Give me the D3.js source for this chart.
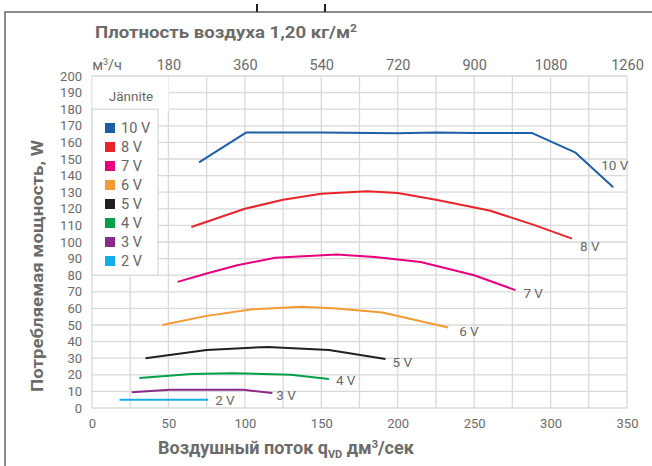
<!DOCTYPE html>
<html><head><meta charset="utf-8">
<script src="https://cdn.jsdelivr.net/npm/d3@7"></script>
<style>
html,body{margin:0;padding:0;background:#fff;}
svg{display:block;font-family:Roboto,"Open Sans",sans-serif;}
</style></head>
<body>
<svg id="c" width="652" height="466"></svg>
<script>
// ---- data ----
const seriesNames = ["10 V","8 V","7 V","6 V","5 V","4 V","3 V","2 V"];
const seriesColors = ["#1d5ea8","#e8232a","#e6007e","#f39a33","#231f20","#00a04b","#8c2a8a","#12aee8"];
const v10 = [[70,148],[101,166],[150,166],[200,165.5],[225,166],[250,165.7],[288,165.6],[316,154],[341,133]];
const v8  = [[65,109],[100,120],[125,125.5],[150,129],[180,130.5],[200,129.5],[225,125.5],[260,119],[290,110],[314,102]];
const v7  = [[56,76],[75,81],[95,86],[120,90.5],[160,92.5],[185,91],[215,88],[250,80],[277,71]];
const v6  = [[46,50],[75,55.5],[105,59.5],[137,61],[160,60],[190,57.5],[233,48.5]];
const v5  = [[35,30],[75,35],[115,36.8],[155,35],[192,29.5]];
const v4  = [[31,18],[65,20.5],[92,21],[130,20],[155,17.5]];
const v3  = [[26,9.5],[51,11],[99,11],[118,9]];
const v2  = [[18,5],[76,5]];
const seriesValues = [v10,v8,v7,v6,v5,v4,v3,v2];
const xTicks = [0,50,100,150,200,250,300,350];
const yTicks = d3.range(0,201,10);
const topTicks = [180,360,540,720,900,1080,1260]; // m³/h
const legendTitle = "Jännite";

// ---- layout ----
const svg = d3.select("#c");
const L = 92, R = 627, T = 76, B = 408;
const x = d3.scaleLinear().domain([0,350]).range([L,R]);
const y = d3.scaleLinear().domain([0,200]).range([B,T]);
const xTop = d3.scaleLinear().domain([0,1260]).range([L,R]);
const grid = "#d9d9d9", txt = "#6b6b6b";

// outer frame
svg.append("path").attr("d","M5,466 V12 H652").attr("fill","none").attr("stroke","#8a8a8a").attr("stroke-width",2);
svg.append("line").attr("x1",257).attr("x2",257).attr("y1",4).attr("y2",12).attr("stroke","#222").attr("stroke-width",2);
svg.append("line").attr("x1",325).attr("x2",325).attr("y1",4).attr("y2",12).attr("stroke","#222").attr("stroke-width",2);

// gridlines
svg.append("g").selectAll("line").data(d3.range(0,351,25)).join("line")
  .attr("x1",d=>x(d)).attr("x2",d=>x(d)).attr("y1",T).attr("y2",B)
  .attr("stroke",grid).attr("stroke-width",1.3);
svg.append("g").selectAll("line").data(yTicks).join("line")
  .attr("x1",L).attr("x2",R).attr("y1",d=>y(d)).attr("y2",d=>y(d))
  .attr("stroke",grid).attr("stroke-width",1.3);

// axes
const ax = svg.append("g").attr("transform",`translate(0,${B})`).call(d3.axisBottom(x).tickValues(xTicks).tickSize(0).tickPadding(11));
ax.select(".domain").remove();
ax.selectAll("text").attr("fill",txt).attr("font-size",13).attr("font-family","Roboto");
const ay = svg.append("g").attr("transform",`translate(${L},0)`).call(d3.axisLeft(y).tickValues(yTicks).tickSize(0).tickPadding(10));
ay.select(".domain").remove();
ay.selectAll("text").attr("fill",txt).attr("font-size",13).attr("font-family","Roboto");
const at = svg.append("g").attr("transform",`translate(0,70)`).call(d3.axisTop(xTop).tickValues(topTicks).tickFormat(d3.format("d")).tickSize(0).tickPadding(0));
at.select(".domain").remove();
at.selectAll("text").attr("fill",txt).attr("font-size",14.5).attr("font-family","Roboto");
svg.append("text").attr("x",107).attr("y",70).attr("text-anchor","middle").attr("fill",txt)
  .attr("font-size",14.5).html('м<tspan dy="-5" font-size="9">3</tspan><tspan dy="5">/ч</tspan>');

// title
svg.append("text").attr("x",95).attr("y",38).attr("fill",txt).attr("font-weight","bold")
  .attr("font-size",17).attr("textLength",262).attr("lengthAdjust","spacingAndGlyphs")
  .html('Плотность воздуха 1,20 кг/м<tspan dy="-6" font-size="11">2</tspan>');

// axis titles
svg.append("text").attr("transform","translate(43,266) rotate(-90)").attr("text-anchor","middle")
  .attr("fill",txt).attr("font-weight","bold").attr("font-size",17)
  .attr("textLength",252).attr("lengthAdjust","spacingAndGlyphs")
  .text("Потребляемая мощность, W");
svg.append("text").attr("x",158).attr("y",454).attr("fill",txt).attr("font-weight","bold").attr("font-size",18)
  .html('Воздушный поток q<tspan dy="4" font-size="11">VD</tspan><tspan dy="-4"> дм</tspan><tspan dy="-6" font-size="11">3</tspan><tspan dy="6">/сек</tspan>');

// lines
const line = d3.line().x(d=>x(d[0])).y(d=>y(d[1]));
const labelOff = {"10 V":[-12,-22],"8 V":[8,8],"7 V":[8,3],"6 V":[11,4],"5 V":[7,3],"4 V":[7,1],"3 V":[4,2],"2 V":[7,1]};
seriesNames.forEach((n,i)=>{
  const vals = seriesValues[i];
  svg.append("path").attr("d",line(vals)).attr("fill","none").attr("stroke",seriesColors[i])
    .attr("stroke-width",2).attr("stroke-linejoin","round");
  const e = vals[vals.length-1];
  svg.append("text").attr("x",x(e[0])+labelOff[n][0]).attr("y",y(e[1])+labelOff[n][1])
    .attr("dy","0.35em").attr("fill","#666").attr("font-size",13.5).text(n);
});

// legend
svg.append("rect").attr("x",L+0.5).attr("y",T+1).attr("width",76).attr("height",34).attr("fill","#fff");
svg.append("rect").attr("x",L).attr("y",y(180)).attr("width",66).attr("height",166)
  .attr("fill","#fff").attr("stroke",grid).attr("stroke-width",1.3);
svg.append("text").attr("x",131).attr("y",96).attr("dy","0.35em").attr("text-anchor","middle")
  .attr("fill","#666").attr("font-size",13.5).text(legendTitle);
const lg = svg.append("g").selectAll("g").data(seriesNames).join("g")
  .attr("transform",(d,i)=>`translate(105,${128+i*19})`);
lg.append("rect").attr("x",0).attr("y",-5).attr("width",10).attr("height",10).attr("fill",(d,i)=>seriesColors[i]);
lg.append("text").attr("x",16).attr("dy","0.36em").attr("fill","#666").attr("font-size",14.5).text(d=>d);
</script>
</body></html>
